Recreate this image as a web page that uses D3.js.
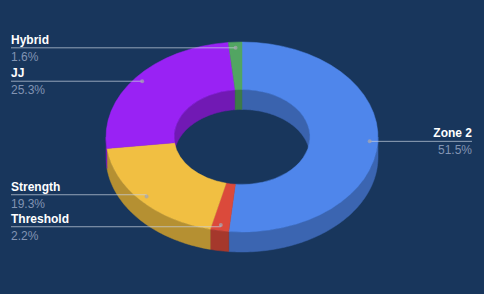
<!DOCTYPE html>
<html><head><meta charset="utf-8">
<script src="https://cdn.jsdelivr.net/npm/d3@7"></script>
<style>html,body{margin:0;padding:0;background:#18365c;} svg{display:block}</style>
</head><body><svg id="c" width="484" height="294"></svg>
<script>
const categories = ["Zone 2", "Threshold", "Strength", "JJ", "Hybrid"];
const values = [51.5, 2.2, 19.3, 25.3, 1.6];
const palette = ["#4f86eb", "#db4a3b", "#f1bf42", "#9922f4", "#52a562"];

const W = 484, H = 294, cx = 242, cy = 137, rx = 136, ry = 95, hole = 0.5, depth = 20;
const k = ry / rx;
const svg = d3.select("#c");
svg.append("rect").attr("width", W).attr("height", H).attr("fill", "#18365c");

const color = d3.scaleOrdinal(categories, palette);
const pie = d3.pie().sort(null).value((d, i) => values[i]);
const arcs = pie(categories);

function band(r, a0, a1) {
  const n = Math.max(2, Math.ceil((a1 - a0) / 0.02));
  const pts = [];
  for (let i = 0; i <= n; i++) {
    const a = a0 + (a1 - a0) * i / n;
    pts.push([cx + r * Math.sin(a), cy - r * k * Math.cos(a)]);
  }
  const bot = pts.slice().reverse().map(p => [p[0], p[1] + depth]);
  return "M" + pts.concat(bot).map(p => p[0].toFixed(2) + "," + p[1].toFixed(2)).join("L") + "Z";
}
function clip(a0, a1, lo, hi) {
  const s = Math.max(a0, lo), e = Math.min(a1, hi);
  return e > s ? [s, e] : null;
}

const walls = svg.append("g");
// inner walls (back half visible through the hole)
arcs.forEach(d => {
  [[0, Math.PI / 2], [3 * Math.PI / 2, 2 * Math.PI]].forEach(([lo, hi]) => {
    const c = clip(d.startAngle, d.endAngle, lo, hi);
    if (c) walls.append("path").attr("d", band(rx * hole, c[0], c[1]))
      .attr("fill", d3.color(color(d.data)).darker(0.85))
      .attr("stroke", d3.color(color(d.data)).darker(0.85)).attr("stroke-width", 0.5);
  });
});
// outer walls (front half)
arcs.forEach(d => {
  const c = clip(d.startAngle, d.endAngle, Math.PI / 2, 3 * Math.PI / 2);
  if (c) walls.append("path").attr("d", band(rx, c[0], c[1]))
    .attr("fill", d3.color(color(d.data)).darker(0.8))
    .attr("stroke", d3.color(color(d.data)).darker(0.8)).attr("stroke-width", 0.5);
});

// top faces
const arc = d3.arc().innerRadius(rx * hole).outerRadius(rx);
svg.append("g").attr("transform", `translate(${cx},${cy}) scale(1,${k})`)
  .selectAll("path").data(arcs).join("path")
  .attr("d", arc)
  .attr("fill", d => color(d.data))
  .attr("stroke", d => color(d.data)).attr("stroke-width", 0.5)
  .attr("vector-effect", "non-scaling-stroke");

// labels
const anchorArc = d3.arc().innerRadius(rx * 0.94).outerRadius(rx * 0.94);
const fmt = d3.format(".1f");
const items = arcs.map((d, i) => {
  const c = anchorArc.centroid(d);
  const ax = cx + c[0], ay = cy + c[1] * k;
  return { d, i, ax, ay, ly: ay, right: ax > cx + rx * 0.5 };
});
// spread overlapping labels on each side
const minGap = 32;
[true, false].forEach(side => {
  const s = items.filter(o => o.right === side).sort((a, b) => a.ly - b.ly);
  for (let it = 0; it < 20; it++) {
    for (let j = 1; j < s.length; j++) {
      const gap = s[j].ly - s[j - 1].ly;
      if (gap < minGap) {
        const sh = (minGap - gap) / 2;
        s[j - 1].ly -= sh; s[j].ly += sh;
      }
    }
  }
});
const lab = svg.append("g").attr("font-family", "'Liberation Sans', Arial, sans-serif").attr("font-size", 12);
items.forEach(o => {
  const x0 = o.right ? 472 : 11;
  const y = o.ly;
  lab.append("path")
    .attr("d", `M${x0},${y}L${o.ax},${y}` + (Math.abs(y - o.ay) > 0.5 ? `L${o.ax},${o.ay}` : ""))
    .attr("fill", "none")
    .attr("stroke", "rgba(200,210,225,0.7)").attr("stroke-width", 1);
  lab.append("circle").attr("cx", o.ax).attr("cy", o.ay).attr("r", 2)
    .attr("fill", "rgba(165,165,175,0.75)");
  lab.append("text").attr("x", x0).attr("y", y - 4)
    .attr("text-anchor", o.right ? "end" : "start")
    .attr("font-weight", "bold").attr("fill", "#ffffff").text(o.d.data);
  lab.append("text").attr("x", x0).attr("y", y + 13)
    .attr("text-anchor", o.right ? "end" : "start")
    .attr("fill", "#8294b3").text(fmt(values[o.i]) + "%");
});
</script></body></html>
